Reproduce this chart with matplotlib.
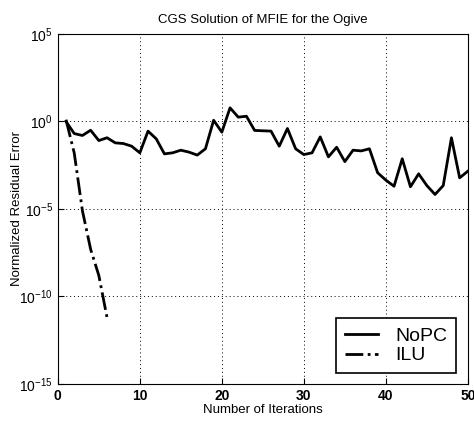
import numpy as np
import matplotlib
matplotlib.use('Agg')
import matplotlib.pyplot as plt

# iteration counts
nopc_iter = np.arange(1, 51)
# log10 of the residual
nopc_log = [0.0, -0.69, -0.8, -0.5, -1.09, -0.93, -1.22, -1.26, -1.41, -1.79,
            -0.55, -0.99, -1.85, -1.79, -1.64, -1.75, -1.92, -1.56, 0.07, -0.61,
            0.78, 0.25, 0.3, -0.51, -0.53, -0.55, -1.41, -0.4, -1.56, -1.89,
            -1.79, -0.88, -2.02, -1.47, -2.29, -1.64, -1.68, -1.56, -2.93, -3.35,
            -3.7, -2.13, -3.73, -2.99, -3.66, -4.17, -3.66, -0.93, -3.22, -2.84]

ilu_iter = [1, 2, 3, 4, 5, 6]
ilu_log = [0.1, -1.8, -5.1, -7.3, -8.8, -11.2]

nopc_err = 10.0 ** np.array(nopc_log)
ilu_err = 10.0 ** np.array(ilu_log)

plt.rcParams['font.family'] = ['Liberation Sans', 'DejaVu Sans']

fig = plt.figure(figsize=(4.74, 4.25), dpi=100)
ax = fig.add_axes([0.122, 0.0965, 0.865, 0.8235])

ax.semilogy(nopc_iter, nopc_err, '-', color='black', lw=2.0, label='NoPC')
ax.semilogy(ilu_iter, ilu_err, '-.', color='black', lw=2.0, label='ILU')

ax.set_xlim(0, 50)
ax.set_ylim(1e-15, 1e5)
ax.set_xticks([0, 10, 20, 30, 40, 50])
ax.set_yticks([1e-15, 1e-10, 1e-5, 1e0, 1e5])
ax.yaxis.set_minor_locator(matplotlib.ticker.NullLocator())
ax.tick_params(direction='in', labelsize=10, length=4)
for lab in ax.get_xticklabels():
    lab.set_fontweight('bold')
ax.grid(True, linestyle=(0, (1, 3)), color='black', lw=0.7)

ax.set_title('CGS Solution of MFIE for the Ogive', fontsize=9.5, pad=8)
ax.set_xlabel('Number of Iterations', fontsize=9.5, labelpad=1)
ax.set_ylabel('Normalized Residual Error', fontsize=9.5, labelpad=-3)

leg = ax.legend(loc='lower right', fontsize=14, fancybox=False, framealpha=1,
                edgecolor='black', handlelength=1.7, handletextpad=0.9,
                borderpad=0.45, labelspacing=0.1, borderaxespad=0,
                bbox_to_anchor=(0.971, 0.031))
leg.get_frame().set_linewidth(1.2)

fig.savefig('out.png', dpi=100)
